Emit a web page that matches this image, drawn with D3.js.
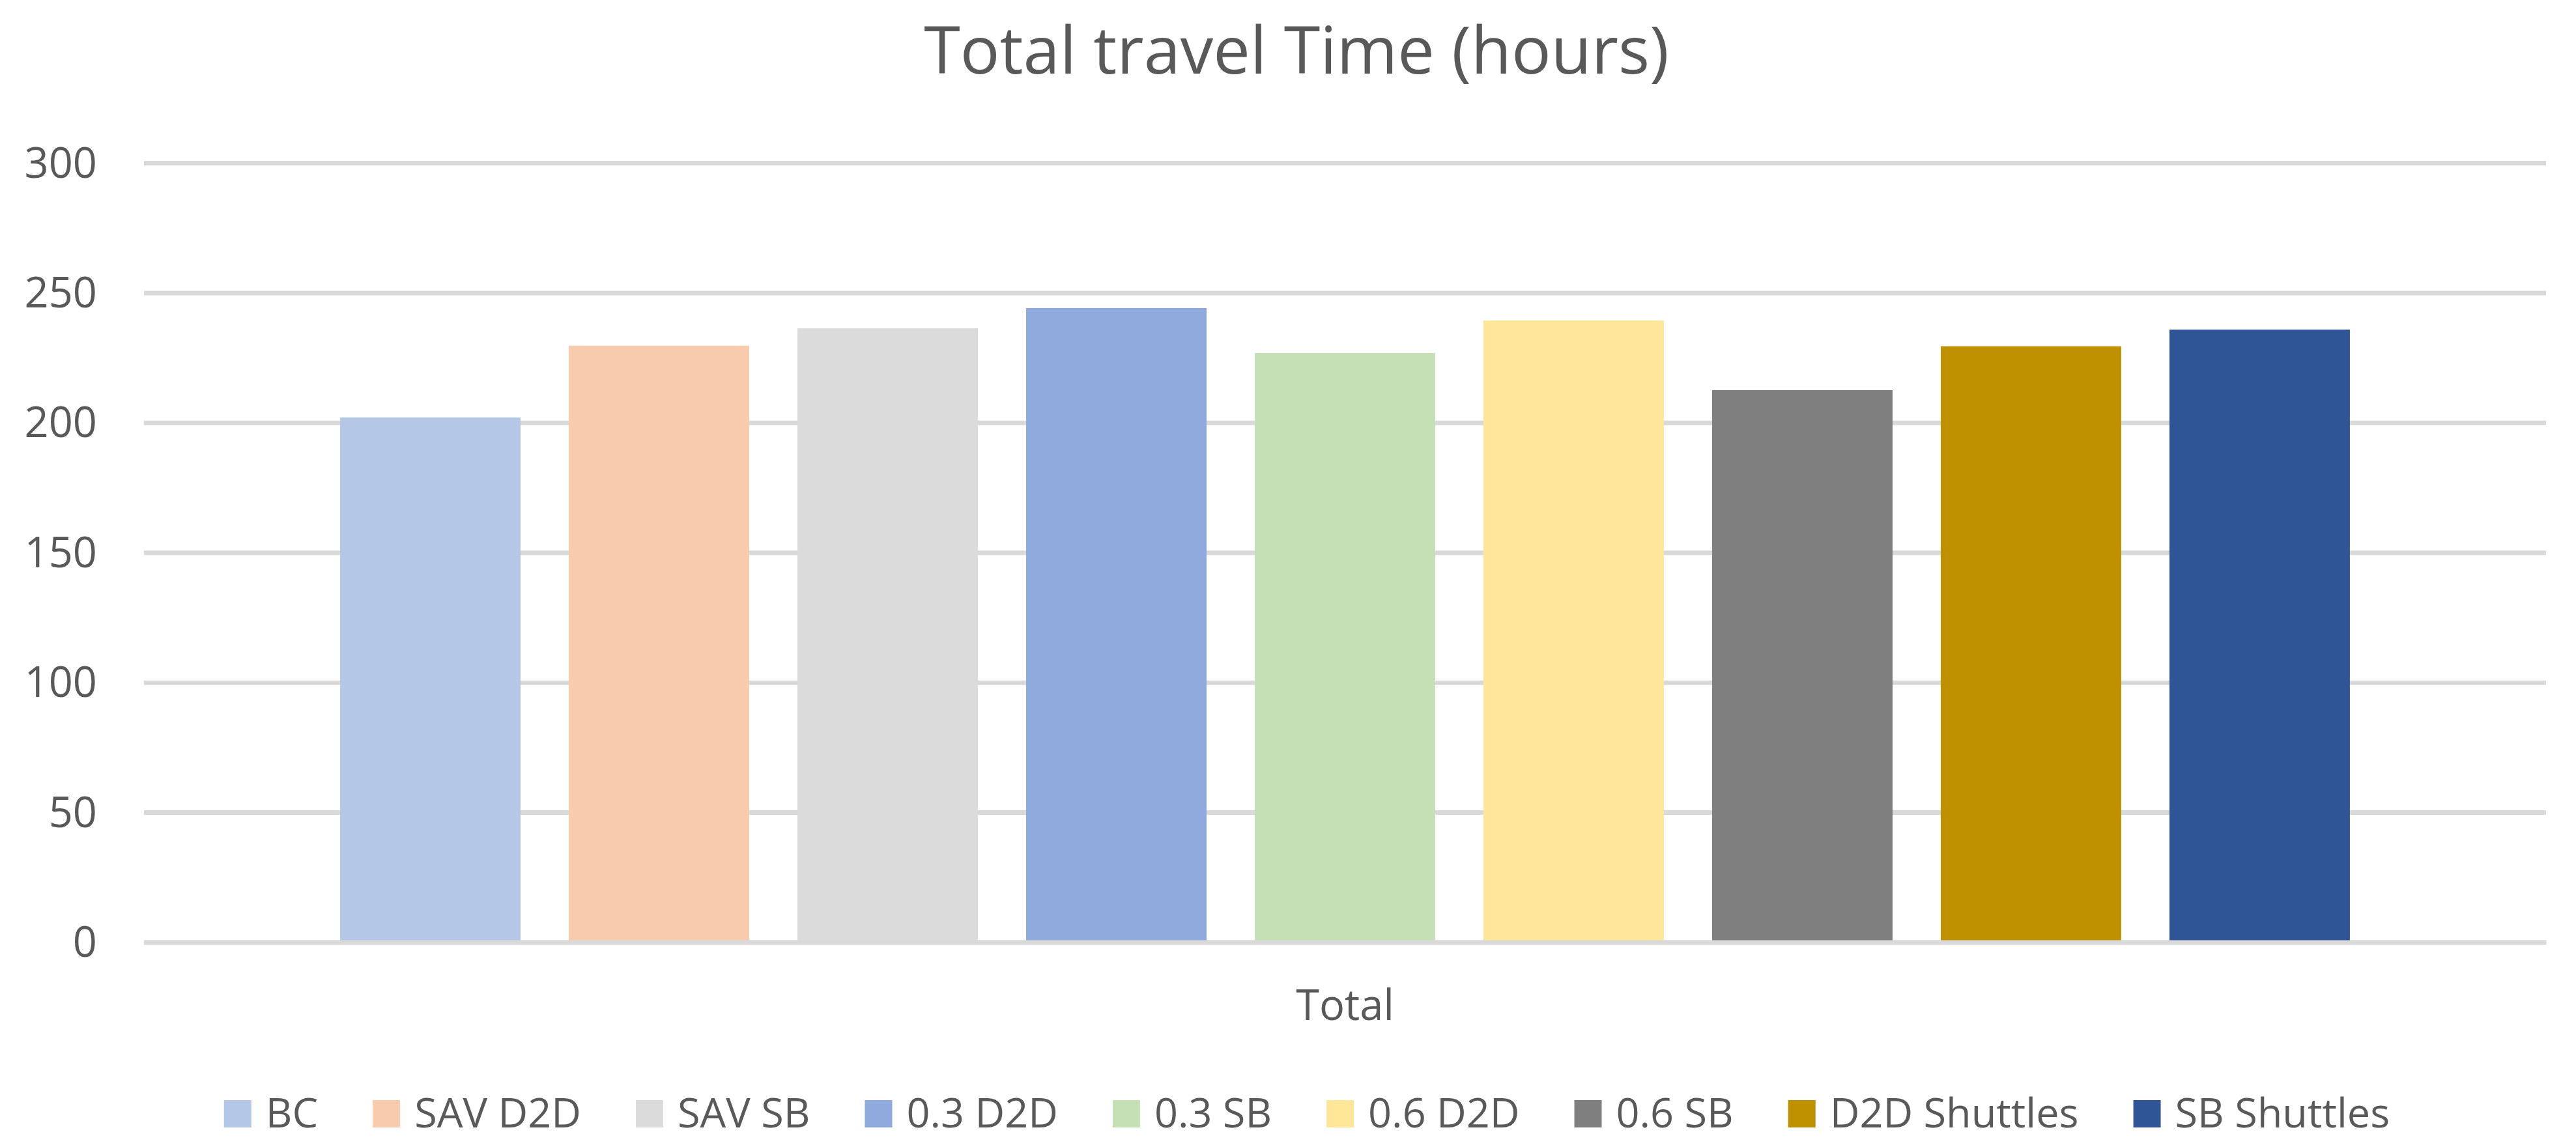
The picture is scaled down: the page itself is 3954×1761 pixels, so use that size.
<!DOCTYPE html>
<html>
<head>
<meta charset="utf-8">
<script src="https://cdn.jsdelivr.net/npm/d3@7"></script>
<style>
    body { margin: 0; background: #ffffff; }
    text { font-family: "Segoe UI", "Open Sans", "Noto Sans", sans-serif; fill: #595959; }
</style>
</head>
<body>
<svg></svg>
<script>
// chart data
let categories = ["Total"]
let series = ["BC", "SAV D2D", "SAV SB", "0.3 D2D", "0.3 SB", "0.6 D2D", "0.6 SB", "D2D Shuttles", "SB Shuttles"]
let values = [202.0, 229.6, 236.3, 244.1, 226.8, 239.3, 212.5, 229.4, 235.8]
let colors = ["#b4c7e7", "#f8cbad", "#dbdbdb", "#8faadc", "#c5e0b4", "#ffe699", "#7f7f7f", "#bf9000", "#2f5597"]
let yTicks = [0, 50, 100, 150, 200, 250, 300]
let title = "Total travel Time (hours)"

let width = 3954
let height = 1761
let plotLeft = 221
let plotRight = 3908
let plotTop = 250
let plotBottom = 1446.5

let svg = d3.select("svg")
    .attr("width", width)
    .attr("height", height)

let xScale = d3.scaleBand()
    .domain(categories)
    .range([plotLeft, plotRight])
    .paddingInner(0)
    .paddingOuter(0.0976)

let seriesScale = d3.scaleBand()
    .domain(series)
    .range([0, xScale.bandwidth()])
    .paddingInner(0.211)
    .paddingOuter(0)

let yScale = d3.scaleLinear()
    .domain([0, 300])
    .range([plotBottom, plotTop])

// gridlines + y labels
let yAxis = d3.axisLeft(yScale)
    .tickValues(yTicks)
    .tickSize(-(plotRight - plotLeft))
    .tickPadding(72)

let yG = svg.append("g")
    .attr("transform", "translate(" + plotLeft + ",0)")
    .call(yAxis)
yG.select(".domain").remove()
yG.selectAll("line").attr("stroke", "#d9d9d9").attr("stroke-width", 7)
yG.selectAll("text")
    .style("font-size", "65px")
    .attr("fill", "#595959")
    .attr("dy", "0.34em")

// bars
svg.append("g")
    .selectAll("rect")
    .data(values)
    .enter()
    .append("rect")
    .attr("x", (d, i) => xScale("Total") + seriesScale(series[i]))
    .attr("width", seriesScale.bandwidth())
    .attr("y", (d) => yScale(d))
    .attr("height", (d) => yScale(0) - yScale(d))
    .attr("fill", (d, i) => colors[i])

// category axis
let xAxis = d3.axisBottom(xScale)
    .tickSize(0)
    .tickPadding(73.5)

let xG = svg.append("g")
    .attr("transform", "translate(0," + plotBottom + ")")
    .call(xAxis)
xG.select(".domain")
    .attr("stroke", "#d9d9d9")
    .attr("stroke-width", 7)
xG.selectAll("text")
    .style("font-size", "65px")
    .attr("fill", "#595959")

// title
svg.append("text")
    .attr("x", 1990)
    .attr("y", 113)
    .attr("text-anchor", "middle")
    .style("font-size", "101px")
    .text(title)

// legend, laid out from measured text widths and centred
let legend = svg.append("g")
let box = 42
let textGap = 22
let itemGap = 84
let cursor = 0
series.forEach((name, i) => {
    let item = legend.append("g").attr("transform", "translate(" + cursor + ",0)")
    item.append("rect")
        .attr("x", 0)
        .attr("y", 1689)
        .attr("width", box)
        .attr("height", box)
        .attr("fill", colors[i])
    let t = item.append("text")
        .attr("x", box + textGap)
        .attr("y", 1731)
        .style("font-size", "63px")
        .text(name)
    cursor += box + textGap + t.node().getComputedTextLength() + itemGap
})
let legendWidth = cursor - itemGap
legend.attr("transform", "translate(" + (2006 - legendWidth / 2) + ",0)")
</script>
</body>
</html>
